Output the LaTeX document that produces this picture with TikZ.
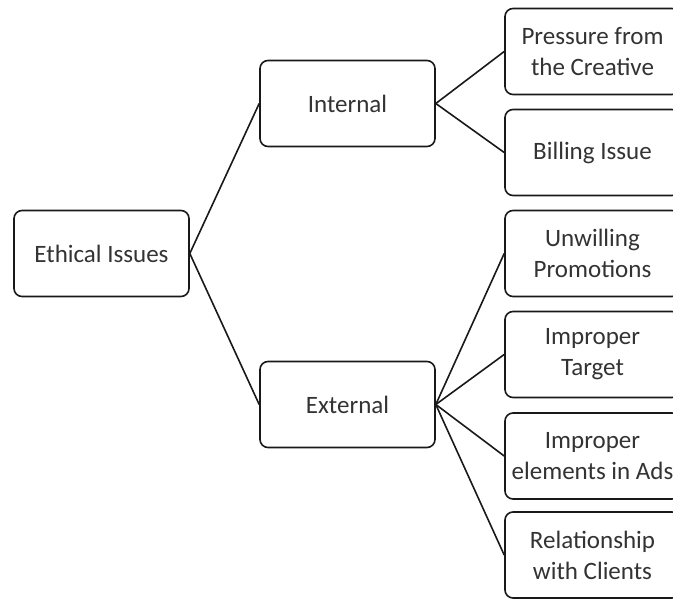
\documentclass[tikz,border=0pt]{standalone}
\usepackage{fontspec}
\setmainfont{Carlito}
\begin{document}
\begin{tikzpicture}[x=1pt,y=-1pt,
  box/.style={draw=black!90, line width=1.6pt, rounded corners=8pt, fill=white,
    minimum width=175pt, minimum height=86pt, align=center, inner sep=0pt,
    font=\fontsize{25}{31}\selectfont, text=black!80},
  link/.style={draw=black!90, line width=1.6pt}]
\useasboundingbox (0,0) rectangle (673,599);
\clip (0,0) rectangle (673,599);
\node[box] (eth) at (101.5,253.5) {Ethical Issues};
\node[box] (int) at (347.5,103.5) {Internal};
\node[box] (ext) at (347.5,404.5) {External};
\node[box] (r1) at (592.5,51.5) {Pressure from\\the Creative};
\node[box] (r2) at (592.5,152.5) {Billing Issue};
\node[box] (r3) at (592.5,253.5) {Unwilling\\Promotions};
\node[box] (r4) at (592.5,354.5) {Improper\\Target};
\node[box] (r5) at (592.5,456) {Improper\\elements in Ads};
\node[box] (r6) at (592.5,555) {Relationship\\with Clients};
\draw[link] (eth.east) -- (int.west);
\draw[link] (eth.east) -- (ext.west);
\draw[link] (int.east) -- (r1.west);
\draw[link] (int.east) -- (r2.west);
\draw[link] (ext.east) -- (r3.west);
\draw[link] (ext.east) -- (r4.west);
\draw[link] (ext.east) -- (r5.west);
\draw[link] (ext.east) -- (r6.west);
\end{tikzpicture}
\end{document}
